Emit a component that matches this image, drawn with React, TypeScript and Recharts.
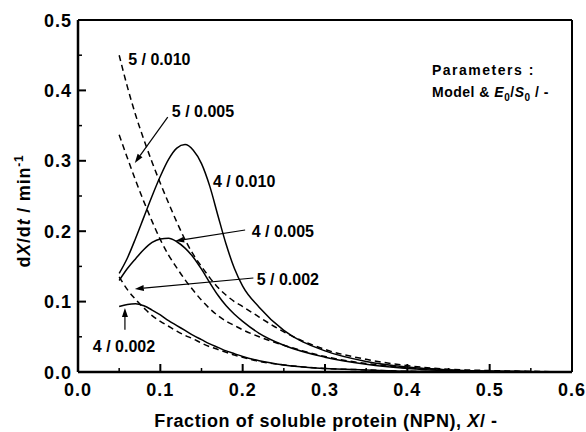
import React from 'react';
import { LineChart, Line, XAxis, YAxis, ReferenceLine, ReferenceDot } from 'recharts';

const FONT = '"Liberation Sans", Arial, Helvetica, sans-serif';

// X grid (fraction of soluble protein)
const xGrid = [0.05, 0.06, 0.07, 0.08, 0.09, 0.10, 0.11, 0.12, 0.13, 0.14, 0.15, 0.16, 0.17, 0.18, 0.19, 0.20, 0.22, 0.25, 0.30, 0.35, 0.40, 0.45, 0.50, 0.55, 0.60];

// Model 4 (solid)
const m4_010 = [0.140, 0.162, 0.190, 0.220, 0.250, 0.278, 0.302, 0.318, 0.323, 0.315, 0.296, 0.264, 0.222, 0.181, 0.147, 0.122, 0.092, 0.059, 0.030, 0.015, 0.007, 0.003, 0.001, 0.0005, 0];
const m4_005 = [0.130, 0.147, 0.161, 0.174, 0.184, 0.189, 0.190, 0.185, 0.176, 0.163, 0.146, 0.127, 0.109, 0.094, 0.082, 0.072, 0.055, 0.038, 0.021, 0.011, 0.005, 0.002, 0.001, 0.0005, 0];
const m4_002 = [0.093, 0.096, 0.097, 0.094, 0.088, 0.081, 0.073, 0.066, 0.059, 0.052, 0.046, 0.040, 0.035, 0.030, 0.026, 0.022, 0.016, 0.010, 0.005, 0.003, 0.001, 0.0005, 0, 0, 0];
// Model 5 (dashed)
const m5_010 = [0.450, 0.405, 0.365, 0.330, 0.298, 0.268, 0.240, 0.213, 0.188, 0.167, 0.150, 0.134, 0.120, 0.109, 0.100, 0.093, 0.078, 0.057, 0.032, 0.018, 0.009, 0.004, 0.002, 0.001, 0];
const m5_005 = [0.337, 0.304, 0.272, 0.242, 0.214, 0.188, 0.166, 0.148, 0.131, 0.116, 0.102, 0.090, 0.080, 0.072, 0.066, 0.060, 0.050, 0.038, 0.022, 0.012, 0.006, 0.003, 0.001, 0.0005, 0];
const m5_002 = [0.135, 0.117, 0.103, 0.091, 0.080, 0.072, 0.065, 0.058, 0.052, 0.047, 0.041, 0.036, 0.032, 0.028, 0.024, 0.021, 0.015, 0.010, 0.005, 0.003, 0.001, 0.0005, 0, 0, 0];

const seriesNames = ['4 / 0.010', '4 / 0.005', '4 / 0.002', '5 / 0.010', '5 / 0.005', '5 / 0.002'];
const seriesValues = [m4_010, m4_005, m4_002, m5_010, m5_005, m5_002];
const seriesDashed = [false, false, false, true, true, true];

// Axis ticks
const xMajor = [0, 0.1, 0.2, 0.3, 0.4, 0.5, 0.6];
const xMinor = [0.05, 0.15, 0.25, 0.35, 0.45, 0.55];
const yMajor = [0, 0.1, 0.2, 0.3, 0.4, 0.5];
const yMinor = [0.05, 0.15, 0.25, 0.35, 0.45];
const xDomain = [0, 0.6];
const yDomain = [0, 0.5];

// Curve labels (data coordinates, text baseline-left)
const labelTexts = ['5 / 0.010', '5 / 0.005', '4 / 0.010', '4 / 0.005', '5 / 0.002', '4 / 0.002'];
const labelX = [0.061, 0.114, 0.164, 0.211, 0.217, 0.018];
const labelY = [0.436, 0.362, 0.263, 0.192, 0.124, 0.028];

// Arrows (tail -> tip)
const arrowFromX = [0.109, 0.203, 0.213, 0.057];
const arrowFromY = [0.362, 0.2017, 0.1335, 0.060];
const arrowToX = [0.069, 0.118, 0.069, 0.057];
const arrowToY = [0.297, 0.186, 0.118, 0.091];

const seriesData = seriesValues.map((vals) => xGrid.map((x, i) => ({ x, y: vals[i] })));
const xTicks = [...xMajor, ...xMinor].sort((a, b) => a - b);
const yTicks = [...yMajor, ...yMinor].sort((a, b) => a - b);

const X_TICK_MARGIN = 11;
const Y_TICK_MARGIN = 7;

const XTick = (p: any) => {
  const v = p.payload.value;
  const major = xMajor.some((m) => Math.abs(m - v) < 1e-9);
  const axisY = p.y - X_TICK_MARGIN;
  return (
    <g>
      <line x1={p.x} x2={p.x} y1={axisY} y2={axisY - (major ? 8 : 4)} stroke="#000" strokeWidth={major ? 2 : 1.5} />
      {major && (
        <text x={p.x} y={axisY + 24} textAnchor="middle" fill="#000" fontSize={18} fontWeight={700} fontFamily={FONT} letterSpacing={1}>
          {v.toFixed(1)}
        </text>
      )}
    </g>
  );
};

const YTick = (p: any) => {
  const v = p.payload.value;
  const major = yMajor.some((m) => Math.abs(m - v) < 1e-9);
  const axisX = p.x + Y_TICK_MARGIN;
  return (
    <g>
      <line x1={axisX} x2={axisX + (major ? 8 : 4)} y1={p.y} y2={p.y} stroke="#000" strokeWidth={major ? 2 : 1.5} />
      {major && (
        <text x={axisX - 6} y={p.y + 6.5} textAnchor="end" fill="#000" fontSize={18} fontWeight={700} fontFamily={FONT} letterSpacing={1}>
          {v.toFixed(1)}
        </text>
      )}
    </g>
  );
};

const ArrowShape = (p: any) => {
  const { x1, y1, x2, y2 } = p;
  const ang = Math.atan2(y2 - y1, x2 - x1);
  const L = 9;
  const W = 3;
  const bx = x2 - L * Math.cos(ang);
  const by = y2 - L * Math.sin(ang);
  const px = -Math.sin(ang) * W;
  const py = Math.cos(ang) * W;
  return (
    <g>
      <line x1={x1} y1={y1} x2={bx} y2={by} stroke="#000" strokeWidth={1.2} />
      <polygon points={`${x2},${y2} ${bx + px},${by + py} ${bx - px},${by - py}`} fill="#000" />
    </g>
  );
};

const makeLabel = (txt: string) => (p: any) => (
  <text x={p.cx} y={p.cy} fill="#000" fontSize={16} fontWeight={700} fontFamily={FONT} textAnchor="start">
    {txt}
  </text>
);

export default function App() {
  return (
    <div style={{ position: 'absolute', left: 0, top: 0, width: 586, height: 432, background: '#fff' }}>
      <LineChart width={586} height={432} margin={{ top: 20, right: 14, left: 0, bottom: 0 }}>
        <XAxis
          xAxisId="x"
          type="number"
          dataKey="x"
          domain={xDomain}
          allowDataOverflow
          ticks={xTicks}
          interval={0}
          height={60}
          tickLine={false}
          tickSize={0}
          tickMargin={X_TICK_MARGIN}
          axisLine={false}
          tick={XTick}
        />
        <YAxis
          yAxisId="y"
          type="number"
          domain={yDomain}
          allowDataOverflow
          ticks={yTicks}
          interval={0}
          width={78}
          tickLine={false}
          tickSize={0}
          tickMargin={Y_TICK_MARGIN}
          axisLine={false}
          tick={YTick}
        />

        {/* frame */}
        <ReferenceLine xAxisId="x" yAxisId="y" y={yDomain[1]} stroke="#000" strokeWidth={2} />
        <ReferenceLine xAxisId="x" yAxisId="y" x={xDomain[1]} stroke="#000" strokeWidth={2} />
        <ReferenceLine xAxisId="x" yAxisId="y" y={yDomain[0]} stroke="#000" strokeWidth={2.5} />
        <ReferenceLine xAxisId="x" yAxisId="y" x={xDomain[0]} stroke="#000" strokeWidth={2.5} />

        {seriesData.map((d, i) => (
          <Line
            key={seriesNames[i]}
            name={seriesNames[i]}
            xAxisId="x"
            yAxisId="y"
            data={d}
            dataKey="y"
            type="monotone"
            stroke="#000"
            strokeWidth={1.5}
            strokeDasharray={seriesDashed[i] ? '6 4' : undefined}
            dot={false}
            isAnimationActive={false}
          />
        ))}

        {arrowFromX.map((_, i) => (
          <ReferenceLine
            key={'arr' + i}
            xAxisId="x"
            yAxisId="y"
            segment={[{ x: arrowFromX[i], y: arrowFromY[i] }, { x: arrowToX[i], y: arrowToY[i] }]}
            shape={ArrowShape}
          />
        ))}

        {labelTexts.map((t, i) => (
          <ReferenceDot key={'lab' + i} xAxisId="x" yAxisId="y" x={labelX[i]} y={labelY[i]} r={0} shape={makeLabel(t)} />
        ))}
      </LineChart>

      <svg width={586} height={432} style={{ position: 'absolute', left: 0, top: 0, pointerEvents: 'none' }}>
        <text x={326} y={427} textAnchor="middle" fontSize={18} fontWeight={700} fontFamily={FONT} letterSpacing={0.6} fill="#000">
          Fraction of soluble protein (NPN), <tspan fontStyle="italic">X</tspan>/ -
        </text>
        <text x={30} y={211} transform="rotate(-90 30 211)" textAnchor="middle" fontSize={18} fontWeight={700} fontFamily={FONT} letterSpacing={0.8} fill="#000">
          d<tspan fontStyle="italic">X</tspan>/d<tspan fontStyle="italic">t</tspan> / min<tspan fontSize={12} dy={-7}>-1</tspan>
        </text>
        <text x={432} y={75} fontSize={14} fontWeight={700} fontFamily={FONT} letterSpacing={1.5} fill="#000">
          Parameters :
        </text>
        <text x={432} y={97} fontSize={14} fontWeight={700} fontFamily={FONT} letterSpacing={0.5} fill="#000">
          Model &amp; <tspan fontStyle="italic">E</tspan><tspan fontSize={10} dy={4}>0</tspan><tspan dy={-4}>/</tspan><tspan fontStyle="italic">S</tspan><tspan fontSize={10} dy={4}>0</tspan><tspan dy={-4}> / -</tspan>
        </text>
      </svg>
    </div>
  );
}
